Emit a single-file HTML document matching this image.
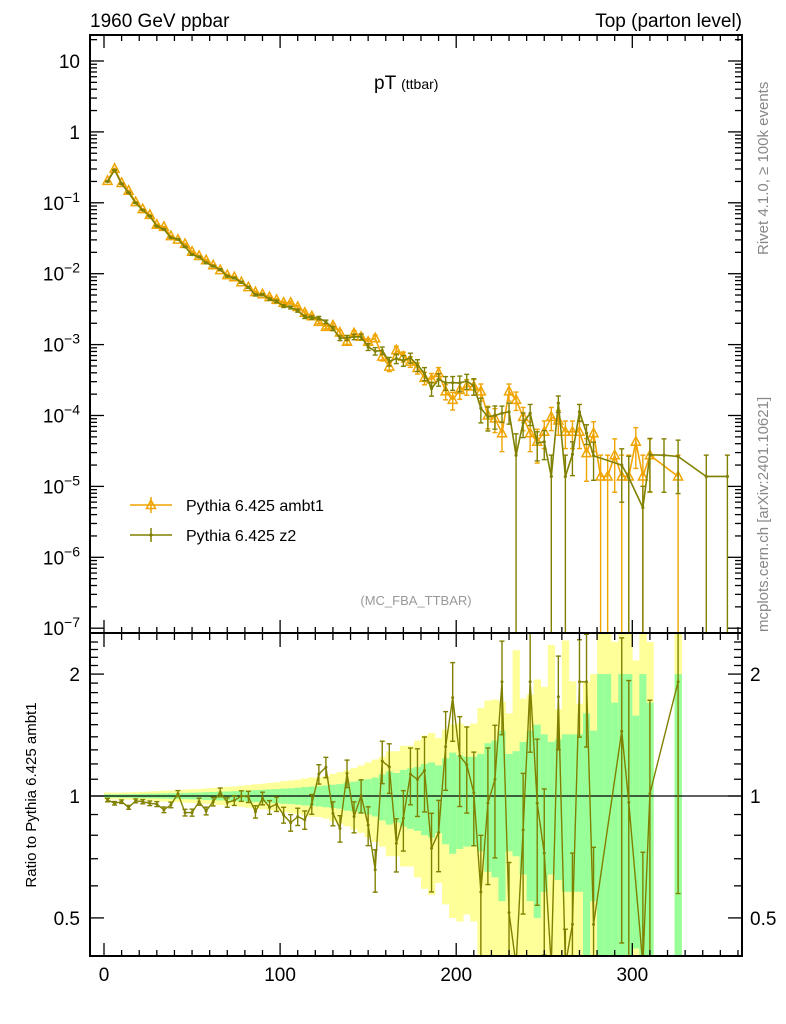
<!DOCTYPE html>
<html><head><meta charset="utf-8"><style>
body{margin:0;background:#fff;overflow:hidden}
svg{display:block;font-family:"Liberation Sans",Arial,sans-serif}
</style></head><body>
<svg id="chart" width="786" height="1024" viewBox="0 0 786 1024" xmlns="http://www.w3.org/2000/svg">
<defs>
<clipPath id="clipMain"><rect x="90" y="35" width="652" height="598"/></clipPath>
<clipPath id="clipRatio"><rect x="90" y="634" width="652" height="322"/></clipPath>
</defs>
<text x="90" y="27" font-size="19">1960 GeV ppbar</text>
<text x="742" y="27" font-size="19" text-anchor="end">Top (parton level)</text>
<text x="374" y="89" font-size="19">pT <tspan font-size="14">(ttbar)</tspan></text>
<text x="416" y="605" font-size="13" fill="#999" text-anchor="middle">(MC_FBA_TTBAR)</text>
<text transform="translate(768,255) rotate(-90)" font-size="15" fill="#888">Rivet 4.1.0, ≥ 100k events</text>
<text transform="translate(768,632) rotate(-90)" font-size="15" fill="#888">mcplots.cern.ch [arXiv:2401.10621]</text>
<text transform="translate(36,795) rotate(-90)" font-size="15" text-anchor="middle">Ratio to Pythia 6.425 ambt1</text>
<g id="bands" clip-path="url(#clipRatio)"></g>
<g id="ratioG" clip-path="url(#clipRatio)"></g>
<g id="mainG" clip-path="url(#clipMain)"></g>
<g id="axes"></g>
<rect x="90" y="35" width="652" height="598" fill="none" stroke="#000" stroke-width="2"/>
<rect x="90" y="633" width="652" height="323" fill="none" stroke="#000" stroke-width="2"/>
<g>
<g>
<line x1="130" y1="505" x2="172" y2="505" stroke="#f0a400" stroke-width="1.5"/>
<line x1="151" y1="497" x2="151" y2="513" stroke="#f0a400" stroke-width="1.5"/>
<polygon points="151,500 155.5,508.5 146.5,508.5" fill="none" stroke="#f0a400" stroke-width="1.5"/>
<text x="186" y="511" font-size="16">Pythia 6.425 ambt1</text>
</g>
<g>
<line x1="130" y1="535" x2="172" y2="535" stroke="#808000" stroke-width="1.5"/>
<line x1="151" y1="528" x2="151" y2="542" stroke="#808000" stroke-width="1.5"/>
<circle cx="151" cy="535" r="1.6" fill="#808000"/>
<text x="186" y="541" font-size="16">Pythia 6.425 z2</text>
</g>
</g>
</svg>
<script>
const centers = [2,6,10,14,18,22,26,30,34,38,42,46,50,54,58,62,66,70,74,78,82,86,90,94,98,102,106,110,114,118,122,126,130,134,138,142,146,150,154,158,162,166,170,174,178,182,186,190,194,198,202,206,210,214,218,222,226,230,234,238,242,246,250,254,258,262,266,270,274,278,282,286,290,294,298,302,306,310,314,318,322,326,330,334,338,342,346,350,354];
const ambt1Log = [
-0.69,-0.52,-0.72,-0.83,-0.99,-1.09,-1.17,-1.31,-1.34,-1.47,
-1.52,-1.58,-1.69,-1.75,-1.81,-1.88,-1.95,-2.02,-2.05,-2.12,
-2.19,-2.26,-2.29,-2.33,-2.37,-2.41,-2.41,-2.47,-2.55,-2.60,
-2.68,-2.75,-2.73,-2.83,-2.96,-2.84,-2.89,-2.96,-2.91,-3.17,
-3.31,-3.08,-3.17,-3.24,-3.33,-3.47,-3.49,-3.40,-3.66,-3.78,
-3.64,-3.59,-3.59,-3.66,-4.00,-4.04,-4.25,-3.66,-3.78,-4.02,
-4.25,-4.37,-4.23,-4.02,-4.07,-4.23,-4.23,-4.23,-4.53,-4.25,
-4.86,-4.86,-4.56,-4.86,-4.86,-4.37,-4.86,-4.56,null,null,
null,-4.86,null,null,null,null,null,null,null];
const ambt1Err = [
0.010,0.009,0.010,0.010,0.011,0.012,0.013,0.014,0.015,0.016,
0.017,0.018,0.019,0.020,0.022,0.023,0.025,0.026,0.028,0.030,
0.032,0.034,0.036,0.038,0.040,0.043,0.045,0.048,0.052,0.055,
0.058,0.062,0.066,0.070,0.080,0.085,0.095,0.10,0.11,0.13,
0.15,0.14,0.16,0.17,0.18,0.20,0.21,0.19,0.24,0.28,
0.26,0.25,0.25,0.27,0.35,0.37,0.45,0.27,0.29,0.36,
0.45,0.5,0.42,0.36,0.38,0.42,0.42,0.42,0.6,0.45,
1,1,0.7,1,1,0.58,1,0.7,0,0,
0,1,0,0,0,0,0,0,0];
const z2Log = [
-0.700,-0.538,-0.734,-0.858,-1.002,-1.104,-1.188,-1.330,-1.374,-1.492,
-1.514,-1.621,-1.731,-1.764,-1.847,-1.894,-1.941,-2.036,-2.061,-2.120,
-2.192,-2.299,-2.296,-2.358,-2.390,-2.457,-2.476,-2.521,-2.609,-2.620,
-2.626,-2.679,-2.773,-2.910,-2.904,-2.891,-2.889,-3.032,-3.092,-3.084,
-3.238,-3.197,-3.225,-3.186,-3.289,-3.407,-3.619,-3.490,-3.538,-3.537,
-3.541,-3.513,-3.582,-3.897,-4.018,-3.999,-3.968,-3.948,-4.560,-4.104,
-3.968,-4.388,-4.371,-4.860,-3.825,-4.860,-4.547,-3.948,-4.248,-4.567,
null,null,null,-4.700,-4.876,null,-5.300,-4.554,null,-4.560,
null,-4.578,null,null,null,-4.860,null,null,-4.860];
const z2Err = [
0.010,0.010,0.010,0.011,0.011,0.012,0.013,0.014,0.016,0.016,
0.017,0.019,0.020,0.020,0.022,0.024,0.025,0.027,0.028,0.030,
0.032,0.035,0.036,0.039,0.041,0.045,0.047,0.049,0.052,0.056,
0.055,0.058,0.068,0.075,0.078,0.088,0.094,0.11,0.12,0.12,
0.14,0.15,0.17,0.16,0.19,0.21,0.22,0.20,0.22,0.22,
0.25,0.24,0.26,0.38,0.37,0.36,0.26,0.33,1,0.38,
0.33,0.44,0.44,1,0.26,1,0.50,0.27,0.31,0.55,
0,0,0,0.7,1,0,1,0.7,0,0.7,
0,0.7,0,0,0,1,0,0,1];
const xTicksMajor = [0,100,200,300];
const ratioTickLabels = [0.5,1,2];

const NS="http://www.w3.org/2000/svg";
const clamp=(v,a,b)=>Math.min(b,Math.max(a,v));
const X = c => 104 + 1.761*c;
const Ym = v => clamp(61 + (1 - Math.log10(Math.max(v,1e-9)))*70.9, 20, 640);
const Yr = r => clamp(796 - 405*Math.log10(Math.max(r,1e-3)), 620, 965);
const ORANGE="#f0a400", OLIVE="#808000";
function mk(tag, parent, attrs){const e=document.createElementNS(NS,tag);for(const k in attrs)e.setAttribute(k,attrs[k]);parent.appendChild(e);return e;}
const mainG=document.getElementById('mainG'), ratioG=document.getElementById('ratioG'), bands=document.getElementById('bands'), axes=document.getElementById('axes');

centers.forEach((c,i)=>{
  if(ambt1Log[i]===null) return;
  const ea=ambt1Err[i], ez=(z2Err[i]||ambt1Err[i]);
  const ey=ea+ez;
  let y=mk('rect',bands,{x:X(c-2),width:1.761*4+0.3,y:Yr(1+ey),height:Yr(1-ey)-Yr(1+ey),fill:"#ffff99"});
  
  
  let g=mk('rect',bands,{x:X(c-2),width:1.761*4+0.3,y:Yr(1+ea),height:Yr(1-ea)-Yr(1+ea),fill:"#99ff99"});
  
  
});
const one=mk('line',ratioG,{x1:90,x2:742,y1:Yr(1),y2:Yr(1),stroke:"#000","stroke-width":1.3});



function errBar(parent,x,yt,yb,color,name){
  const g=mk('g',parent,{stroke:color,"stroke-width":1.4});
  
  
  mk('line',g,{x1:x,x2:x,y1:yt,y2:yb});
  mk('line',g,{x1:x-2.5,x2:x+2.5,y1:yt,y2:yt});
  mk('line',g,{x1:x-2.5,x2:x+2.5,y1:yb,y2:yb});
}
function series(logs,errs,color,tri,name){
  const pts=[];
  centers.forEach((c,i)=>{ if(logs[i]!==null) pts.push([X(c),Ym(Math.pow(10,logs[i])),i]); });
  const pl=mk('polyline',mainG,{points:pts.map(p=>p[0]+','+p[1]).join(' '),fill:"none",stroke:color,"stroke-width":1.6});
  
  
  pts.forEach(p=>{
    const v=Math.pow(10,logs[p[2]]), e=errs[p[2]];
    const yt=Ym(v*(1+e)), yb= e>=0.999?640:Ym(v*(1-e));
    errBar(mainG,p[0],yt,yb,color,name+'-error-bar');
    if(tri){
      const t=mk('polygon',mainG,{points:`${p[0]},${p[1]-5} ${p[0]+4.5},${p[1]+3.5} ${p[0]-4.5},${p[1]+3.5}`,fill:"none",stroke:color,"stroke-width":1.5});
      
      
    } else {
      const d=mk('circle',mainG,{cx:p[0],cy:p[1],r:1.6,fill:color});
      
      
    }
  });
}
series(ambt1Log,ambt1Err,ORANGE,true,'ambt1');
series(z2Log,z2Err,OLIVE,false,'z2');

const rpts=[];
centers.forEach((c,i)=>{ if(ambt1Log[i]!==null && z2Log[i]!==null){ rpts.push([c,Math.pow(10,z2Log[i]-ambt1Log[i]),z2Err[i]]); } });
const rl=mk('polyline',ratioG,{points:rpts.map(p=>X(p[0])+','+Yr(p[1])).join(' '),fill:"none",stroke:OLIVE,"stroke-width":1.4});


rpts.forEach(p=>{
  const x=X(p[0]);
  errBar(ratioG,x,Yr(p[1]*(1+p[2])),Yr(p[1]*(1-p[2])),OLIVE,'z2-ratio-error-bar');
  const d=mk('circle',ratioG,{cx:x,cy:Yr(p[1]),r:1.5,fill:OLIVE});
  
  
});

function tk(x1,y1,x2,y2){mk('line',axes,{x1,y1,x2,y2,stroke:"#000","stroke-width":1.3});}
for(let v=0; v<=360; v+=10){
  const x=X(v); if(x<91||x>741) continue;
  const L = v%100===0?13:6;
  tk(x,956,x,956-L); tk(x,634,x,634+L); tk(x,35,x,35+L); tk(x,633,x,633-L);
}
xTicksMajor.forEach(v=>{
  const t=mk('text',axes,{x:X(v),y:981,"font-size":19,"text-anchor":"middle"}); t.textContent=v;
  
  
});
for(let d=-7; d<=1; d++){
  for(let m=1;m<=9;m++){
    const y=61 + (1 - Math.log10(m*Math.pow(10,d)))*70.9; if(y<36||y>632) continue;
    const L=m===1?13:6;
    tk(91,y,91+L,y); tk(741,y,741-L,y);
  }
  const t=mk('text',axes,{x:80,y:61 + (1-d)*70.9+7,"font-size":19,"text-anchor":"end"});
  
  
  if(d===1) t.textContent="10"; else if(d===0) t.textContent="1";
  else { t.textContent="10"; const s=mk('tspan',t,{dy:-8,"font-size":14}); s.textContent="−"+(-d); }
}
const rMinor=[0.5,0.6,0.7,0.8,0.9,1,1.1,1.2,1.3,1.4,1.5,1.6,1.7,1.8,1.9,2,2.1,2.2,2.3,2.4];
rMinor.forEach(r=>{
  const y=Yr(r); const L=(r===1||r===2||r===0.5)?13:7;
  tk(91,y,91+L,y); tk(741,y,741-L,y);
});
ratioTickLabels.forEach(r=>{
  const t=mk('text',axes,{x:80,y:Yr(r)+7,"font-size":19,"text-anchor":"end"}); t.textContent=r;
  
  
  const t2=mk('text',axes,{x:750,y:Yr(r)+7,"font-size":19}); t2.textContent=r;
  
  
});
</script>
</body></html>
